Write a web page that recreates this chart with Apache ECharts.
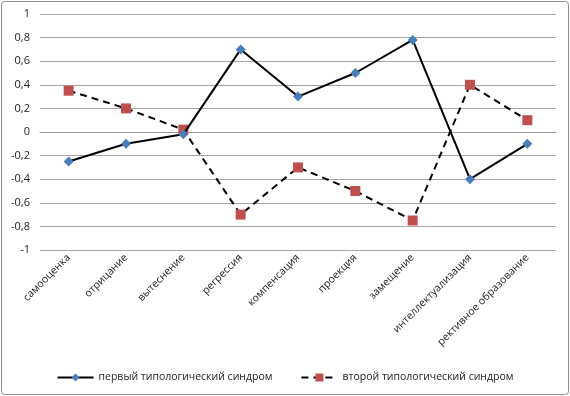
<!DOCTYPE html>
<html><head><meta charset="utf-8">
<script src="https://cdn.jsdelivr.net/npm/echarts@6/dist/echarts.min.js"></script>
<style>html,body{margin:0;padding:0;background:#fff}#c{width:570px;height:396px}</style>
</head><body><div id="c"></div>
<script>
const categories = ["самооценка","отрицание","вытеснение","регрессия","компенсация","проекция","замещение","интеллектуализация","рективное образование"];
const series1Name = "первый типологический синдром";
const series2Name = "второй типологический синдром";
const series1 = [-0.25,-0.1,-0.02,0.7,0.3,0.5,0.78,-0.4,-0.1];
const series2 = [0.35,0.2,0.02,-0.7,-0.3,-0.5,-0.75,0.4,0.1];
const font = "'Open Sans', 'Liberation Sans', sans-serif";
const chart = echarts.init(document.getElementById('c'));
chart.setOption({
  animation:false,
  graphic:[{type:'rect',shape:{x:1.5,y:1.5,width:567,height:393,r:3},style:{fill:'none',stroke:'#8c8c8c',lineWidth:1}}],
  grid:{left:40,right:14,top:14,bottom:146,containLabel:false},
  xAxis:{type:'category',data:categories,boundaryGap:true,
    axisLine:{show:true,lineStyle:{color:'#9a9a9a'}},axisTick:{show:false},
    axisLabel:{rotate:45,interval:0,fontFamily:font,fontSize:10.5,color:'#222',margin:6}},
  yAxis:{type:'value',min:-1,max:1,interval:0.2,
    axisLine:{show:false},axisTick:{show:false},
    splitLine:{lineStyle:{color:'#a6a6a6',width:1}},
    axisLabel:{fontFamily:font,fontSize:11,color:'#222',margin:10,
      formatter:v=>{const r=Math.round(v*10)/10;return String(r).replace('.',',');}}},
  legend:{bottom:8,left:'center',itemGap:28,itemWidth:36,itemHeight:10,
    textStyle:{fontFamily:font,fontSize:10.5,color:'#222'},
    data:[series1Name,series2Name]},
  series:[
    {name:series1Name,type:'line',data:series1,symbol:'diamond',symbolSize:10,
     lineStyle:{color:'#000',width:2},itemStyle:{color:'#4a7ebb'},z:3},
    {name:series2Name,type:'line',data:series2,symbol:'rect',symbolSize:10,
     lineStyle:{color:'#000',width:2,type:[7,5]},itemStyle:{color:'#c0504d'},z:2}
  ]
});
</script></body></html>
